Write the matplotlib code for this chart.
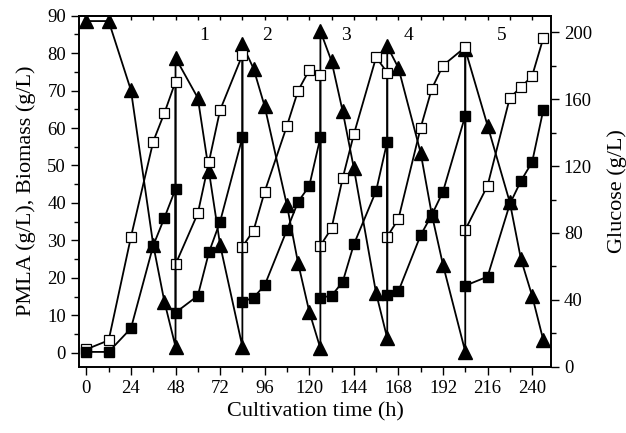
import numpy as np
from matplotlib import pyplot as plt
from matplotlib.ticker import MultipleLocator

plt.rcParams['font.family'] = ['Liberation Serif', 'DejaVu Serif']
plt.rcParams['mathtext.fontset'] = 'stix'

# sampling times (h); harvest points appear twice (before / after)
time = [0, 12, 24, 36, 42, 48,
        48, 60, 66, 72, 84,
        84, 90, 96, 108, 114, 120, 126,
        126, 132, 138, 144, 156, 162,
        162, 168, 180, 186, 192, 204,
        204, 216, 228, 234, 240, 246]

# open squares (g/L)
open_sq = [0.9, 3.3, 30.9, 56.4, 64.0, 72.4,
           23.6, 37.2, 51.0, 64.8, 79.5,
           28.3, 32.6, 43.0, 60.6, 70.0, 75.5, 74.2,
           28.6, 33.2, 46.6, 58.3, 78.9, 74.8,
           31.0, 35.7, 60.1, 70.5, 76.7, 81.6,
           32.8, 44.6, 68.1, 70.9, 73.9, 84.0]

# filled squares (g/L)
filled_sq = [0.2, 0.2, 6.5, 28.6, 36.0, 43.7,
             10.7, 15.2, 26.8, 35.0, 57.5,
             13.6, 14.7, 18.0, 32.8, 40.3, 44.5, 57.5,
             14.7, 15.2, 18.9, 28.9, 43.2, 56.4,
             15.4, 16.4, 31.4, 36.8, 43.0, 63.3,
             17.9, 20.3, 39.7, 45.9, 50.9, 64.8]

# glucose, filled triangles (g/L)
glucose = [206.8, 206.8, 165.4, 72.9, 39.0, 12.0,
           184.8, 160.8, 116.9, 72.9, 12.0,
           192.8, 178.4, 155.8, 96.5, 62.0, 33.0, 11.0,
           200.8, 182.8, 152.8, 118.9, 44.0, 17.0,
           191.8, 178.8, 127.9, 91.0, 61.0, 9.0,
           189.8, 144.3, 98.3, 64.3, 42.4, 16.0]

cycle_labels = ['1', '2', '3', '4', '5']
cycle_x = [63.5, 97.5, 139.5, 173.5, 223.5]

fig = plt.figure(figsize=(6.26, 4.33), dpi=100)
ax = fig.add_axes([0.1267, 0.1531, 0.7530, 0.8106])
ax2 = ax.twinx()

ax2.plot(time, glucose, '-', color='black', lw=1.3, marker='^', ms=9.5,
         mfc='black', mec='black')
ax.plot(time, open_sq, '-', color='black', lw=1.3, marker='s', ms=7,
        mfc='white', mec='black', mew=0.9)
ax.plot(time, filled_sq, '-', color='black', lw=1.3, marker='s', ms=7,
        mfc='black', mec='black')

# main axis above the twin so squares sit on top of triangles
ax.set_zorder(ax2.get_zorder() + 1)
ax.patch.set_visible(False)

for lab, xx in zip(cycle_labels, cycle_x):
    ax.text(xx, 84.6, lab, fontsize=14, ha='center', va='center')

ax.set_xlim(-3.8, 250)
ax.set_ylim(-3.75, 90)
ax2.set_ylim(0, 210)

ax.xaxis.set_major_locator(MultipleLocator(24))
ax.xaxis.set_minor_locator(MultipleLocator(12))
ax.yaxis.set_major_locator(MultipleLocator(10))
ax.yaxis.set_minor_locator(MultipleLocator(5))
ax2.yaxis.set_major_locator(MultipleLocator(40))
ax2.yaxis.set_minor_locator(MultipleLocator(20))

ax.tick_params(axis='both', which='major', direction='out', length=6,
               width=1, labelsize=13.5)
ax.tick_params(axis='both', which='minor', direction='out', length=3.5, width=1)
ax2.tick_params(axis='y', which='major', direction='out', length=6,
                width=1, labelsize=13.5)
ax2.tick_params(axis='y', which='minor', direction='out', length=3.5, width=1)

# small inward ticks along the top edge
top = ax.secondary_xaxis('top')
top.set_xticks(np.arange(0, 250, 12))
top.tick_params(direction='in', length=3, width=1, labeltop=False)

for sp in ax.spines.values():
    sp.set_linewidth(1.2)
for sp in ax2.spines.values():
    sp.set_linewidth(1.2)
top.spines['top'].set_linewidth(1.2)

ax.set_xlabel('Cultivation time (h)', fontsize=16, labelpad=4)
ax.set_ylabel('PMLA (g/L), Biomass (g/L)', fontsize=16, labelpad=8)
ax2.set_ylabel('Glucose (g/L)', fontsize=16, labelpad=11)

plt.savefig('out.png', dpi=100)
